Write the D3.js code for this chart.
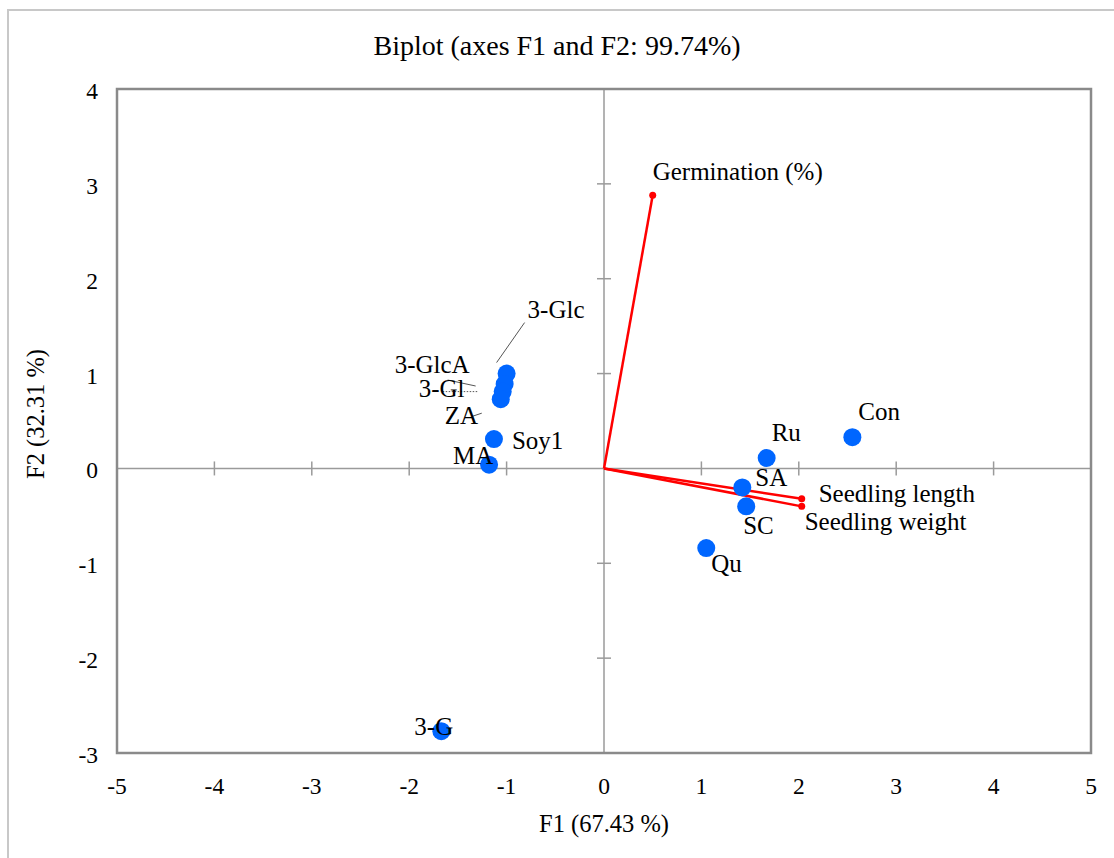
<!DOCTYPE html>
<html><head><meta charset="utf-8">
<script src="https://cdn.jsdelivr.net/npm/d3@7"></script>
<style>body{margin:0;background:#fff}svg{display:block}text{font-family:"Liberation Serif","Times New Roman",serif;fill:#000}</style>
</head><body><svg id="c" width="1114" height="858"></svg>
<script>
// ---- data ----
const obsNames = ["Con","Ru","SA","SC","Qu","Soy1","MA","3-G","3-Glc","3-GlcA","3-Gl","ZA"];
const obsF1 = [2.55, 1.67, 1.42, 1.46, 1.05, -1.13, -1.18, -1.67, -1.00, -1.02, -1.04, -1.06];
const obsF2 = [0.33, 0.11, -0.20, -0.40, -0.84, 0.31, 0.04, -2.77, 1.00, 0.89, 0.81, 0.73];
const varNames = ["Germination (%)","Seedling length","Seedling weight"];
const varF1 = [0.50, 2.03, 2.03];
const varF2 = [2.88, -0.32, -0.40];
const xTicks = [-5,-4,-3,-2,-1,0,1,2,3,4,5];
const yTicks = [-3,-2,-1,0,1,2,3,4];
const titleText = "Biplot (axes F1 and F2: 99.74%)";
const xTitle = "F1 (67.43 %)";
const yTitle = "F2 (32.31 %)";

// ---- label placement (pixel offsets from the point) ----
const obsLabelOff = {
  "Con":[6,-26], "Ru":[5,-25], "SA":[13,-10], "SC":[-3,19], "Qu":[5,15],
  "Soy1":[18,1], "MA":[-36,-9], "3-G":[-27,-5], "3-Glc":[21,-64],
  "3-GlcA":[-110,-20], "3-Gl":[-84,-3], "ZA":[-56,16]
};
const leaders = { // [fromDx,fromDy,toDx,toDy,dashed]
  "3-Glc":[18,-51,-10,-11,false],
  "3-GlcA":[-57,-4,-29,2,false],
  "3-Gl":[-60,0,-24,0,true],
  "ZA":[-28,17,-19,14,false]
};
const varLabelOff = {"Germination (%)":[0,-24],"Seedling length":[17,-5],"Seedling weight":[3,15]};

const FONT = "'Liberation Serif', 'Times New Roman', serif";
const svg = d3.select("#c");
const L=117, T=89, W=974, H=664;
const x = d3.scaleLinear().domain([-5,5]).range([L, L+W]);
const y = d3.scaleLinear().domain([-3,4]).range([T+H, T]);

// outer frame
svg.append("path").attr("d","M8,858 L8,10 L1114,10").attr("fill","none").attr("stroke","#c8c8c8").attr("stroke-width",2);

// title
svg.append("text").attr("x",557).attr("y",45).attr("text-anchor","middle").attr("dominant-baseline","central")
  .attr("font-family",FONT).style("font-size","28px").text(titleText);

// zero axes with crossing ticks
const g = svg.append("g");
g.append("line").attr("x1",x(-5)).attr("x2",x(5)).attr("y1",y(0)).attr("y2",y(0)).attr("stroke","#9a9a9a").attr("stroke-width",1.5);
g.append("line").attr("x1",x(0)).attr("x2",x(0)).attr("y1",y(-3)).attr("y2",y(4)).attr("stroke","#9a9a9a").attr("stroke-width",1.5);
g.selectAll(".xt").data(xTicks.filter(d=>d>-5&&d<5&&d!==0)).join("line")
  .attr("x1",d=>x(d)).attr("x2",d=>x(d)).attr("y1",y(0)-7).attr("y2",y(0)+7).attr("stroke","#9a9a9a").attr("stroke-width",1.5);
g.selectAll(".yt").data(yTicks.filter(d=>d>-3&&d<4&&d!==0)).join("line")
  .attr("y1",d=>y(d)).attr("y2",d=>y(d)).attr("x1",x(0)-7).attr("x2",x(0)+7).attr("stroke","#9a9a9a").attr("stroke-width",1.5);

// plot box
svg.append("rect").attr("x",L).attr("y",T).attr("width",W).attr("height",H).attr("fill","none").attr("stroke","#8a8a8a").attr("stroke-width",2.5);

// tick labels
svg.selectAll(".xl").data(xTicks).join("text").attr("x",d=>x(d)).attr("y",786).attr("text-anchor","middle")
  .attr("dominant-baseline","central").attr("font-family",FONT).style("font-size","23.5px").text(d=>d);
svg.selectAll(".yl").data(yTicks).join("text").attr("x",98).attr("y",d=>y(d)+2).attr("text-anchor","end")
  .attr("dominant-baseline","central").attr("font-family",FONT).style("font-size","23.5px").text(d=>d);

// axis titles
svg.append("text").attr("x",604).attr("y",823).attr("text-anchor","middle").attr("dominant-baseline","central").attr("font-family",FONT).style("font-size","24.5px").text(xTitle);
svg.append("text").attr("transform","translate(35,414) rotate(-90)").attr("text-anchor","middle").attr("dominant-baseline","central").attr("font-family",FONT).style("font-size","24.5px").text(yTitle);

// leaders
obsNames.forEach((n,i)=>{
  const l = leaders[n]; if(!l) return;
  svg.append("line").attr("x1",x(obsF1[i])+l[0]).attr("y1",y(obsF2[i])+l[1]).attr("x2",x(obsF1[i])+l[2]).attr("y2",y(obsF2[i])+l[3])
    .attr("stroke","#555").attr("stroke-width",1).attr("stroke-dasharray",l[4]?"1.5,1.5":null);
});

// vectors
const vec = varNames.map((n,i)=>({n,f1:varF1[i],f2:varF2[i]}));
svg.selectAll(".vl").data(vec).join("line").attr("x1",x(0)).attr("y1",y(0)).attr("x2",d=>x(d.f1)).attr("y2",d=>y(d.f2))
  .attr("stroke","#ff0000").attr("stroke-width",2.5);
svg.selectAll(".vd").data(vec).join("circle").attr("cx",d=>x(d.f1)).attr("cy",d=>y(d.f2)).attr("r",3.5).attr("fill","#ff0000");

// observations
const obs = obsNames.map((n,i)=>({n,f1:obsF1[i],f2:obsF2[i]}));
svg.selectAll(".pt").data(obs).join("circle").attr("cx",d=>x(d.f1)).attr("cy",d=>y(d.f2)).attr("r",9).attr("fill","#0066ff");

// labels
svg.selectAll(".vt").data(vec).join("text").attr("x",d=>x(d.f1)+varLabelOff[d.n][0]).attr("y",d=>y(d.f2)+varLabelOff[d.n][1])
  .attr("dominant-baseline","central").attr("font-family",FONT).style("font-size","25px").text(d=>d.n);
svg.selectAll(".ot").data(obs).join("text").attr("x",d=>x(d.f1)+obsLabelOff[d.n][0]).attr("y",d=>y(d.f2)+obsLabelOff[d.n][1])
  .attr("dominant-baseline","central").attr("font-family",FONT).style("font-size","25px").text(d=>d.n);
</script></body></html>
